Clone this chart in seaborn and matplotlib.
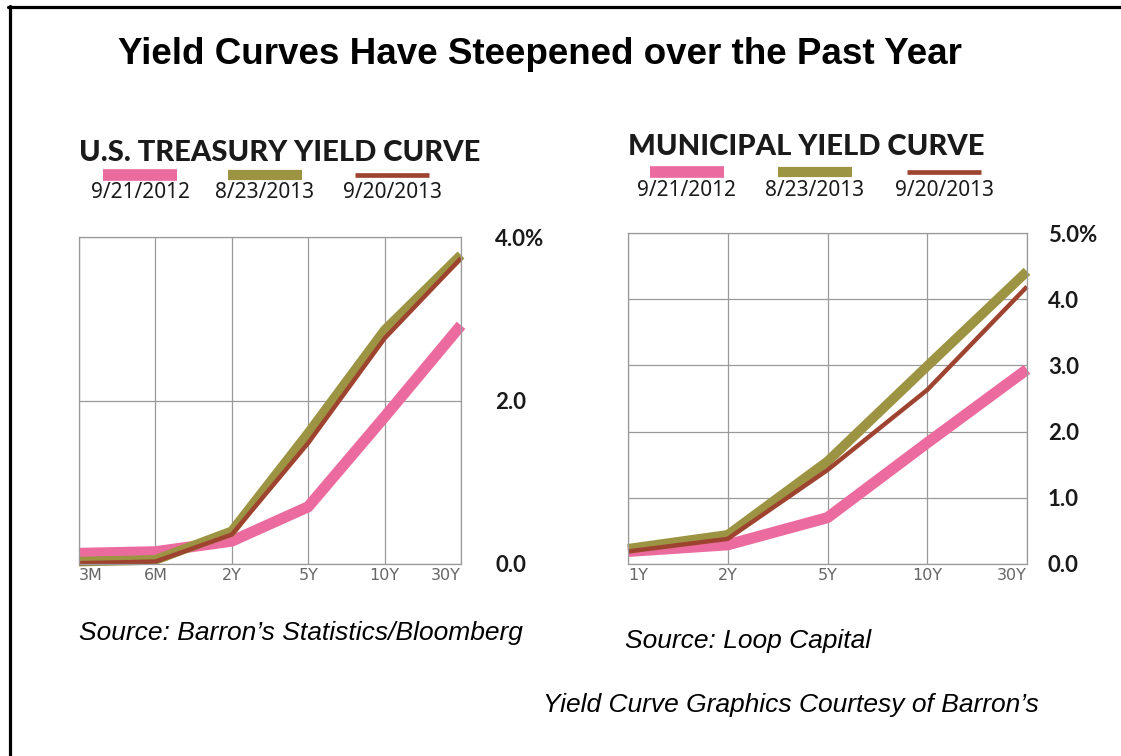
import numpy as np
import pandas as pd
import matplotlib
matplotlib.use("Agg")
import matplotlib.pyplot as plt
from matplotlib.lines import Line2D
import seaborn as sns

# data (percent)
dates = ["9/21/2012", "8/23/2013", "9/20/2013"]
colors = ["#EC6B9F", "#9C9443", "#9E4330"]
widths = [8.0, 7.0, 3.2]

tsy_terms = ["3M", "6M", "2Y", "5Y", "10Y", "30Y"]
tsy_2012 = [0.13, 0.15, 0.28, 0.70, 1.80, 2.92]
tsy_aug13 = [0.03, 0.05, 0.40, 1.60, 2.86, 3.78]
tsy_sep13 = [0.01, 0.03, 0.36, 1.48, 2.76, 3.74]

muni_terms = ["1Y", "2Y", "5Y", "10Y", "30Y"]
muni_2012 = [0.19, 0.29, 0.70, 1.83, 2.94]
muni_aug13 = [0.23, 0.44, 1.55, 2.99, 4.42]
muni_sep13 = [0.19, 0.38, 1.42, 2.63, 4.19]

W, H = 1121, 756
sns.set_style("white")
fig = plt.figure(figsize=(W / 100, H / 100), dpi=100)
fig.patch.set_facecolor("white")


def fx(x):
    return x / W


def fy(y):
    return 1 - y / H


def draw_panel(rect, terms, series, ymax, yticks, ylabels, title, title_xy,
               leg_centers, leg_y, lab_y, ypad):
    ax = fig.add_axes([fx(rect[0]), fy(rect[3]), fx(rect[2] - rect[0]),
                       (rect[3] - rect[1]) / H])
    pos = np.arange(len(terms))
    for vals, c, lw in zip(series, colors, widths):
        sns.lineplot(x=pos, y=vals, ax=ax, color=c, linewidth=lw,
                     solid_capstyle="butt", clip_on=False)
    ax.set_xlim(0, len(terms) - 1)
    ax.set_ylim(0, ymax)
    ax.set_xticks(pos)
    ax.set_xticklabels(terms, family="DejaVu Sans", fontsize=11.5,
                       color="#666666")
    labs = ax.get_xticklabels()
    labs[0].set_horizontalalignment("left")
    labs[-1].set_horizontalalignment("right")
    ax.yaxis.tick_right()
    ax.set_yticks(yticks)
    ax.set_yticklabels(ylabels, family="Lato", fontweight="bold", fontsize=16,
                       color="#1a1a1a")
    ax.tick_params(axis="both", length=0)
    ax.tick_params(axis="y", pad=ypad * 0.72)
    ax.tick_params(axis="x", pad=3)
    ax.grid(True, color="#9a9a9a", linewidth=0.9)
    for s in ax.spines.values():
        s.set_color("#9a9a9a")
        s.set_linewidth(0.9)
    ax.set_xlabel("")
    ax.set_ylabel("")
    fig.text(fx(title_xy[0]), fy(title_xy[1]), title, family="Lato",
             fontweight="black", fontsize=21, color="#1a1a1a",
             ha="center", va="center")
    for cx, c, lw, d in zip(leg_centers, colors, widths, dates):
        fig.add_artist(Line2D([fx(cx - 37), fx(cx + 37)], [fy(leg_y), fy(leg_y)],
                              color=c, linewidth=lw * 1.05, solid_capstyle="butt"))
        fig.text(fx(cx), fy(lab_y), d, family="Noto Sans", fontsize=15,
                 color="#1a1a1a", ha="center", va="center")
    return ax


draw_panel((79, 237, 461, 564), tsy_terms, [tsy_2012, tsy_aug13, tsy_sep13],
           4, [0, 2, 4], ["0.0", "2.0", "4.0%"],
           "U.S. TREASURY YIELD CURVE", (280, 153),
           [140, 265, 392], 175, 193, 34)

draw_panel((628, 233, 1027, 564), muni_terms, [muni_2012, muni_aug13, muni_sep13],
           5, [0, 1, 2, 3, 4, 5], ["0.0", "1.0", "2.0", "3.0", "4.0", "5.0%"],
           "MUNICIPAL YIELD CURVE", (806, 147),
           [687, 815, 944], 172, 190, 21)

fig.text(fx(540), fy(55), "Yield Curves Have Steepened over the Past Year",
         family="Liberation Sans", fontweight="bold", fontsize=26.5,
         ha="center", va="center", color="black")
fig.text(fx(79), fy(633), "Source: Barron\u2019s Statistics/Bloomberg",
         family="Liberation Sans", style="italic", fontsize=19,
         ha="left", va="center", color="black")
fig.text(fx(625), fy(641), "Source: Loop Capital",
         family="Liberation Sans", style="italic", fontsize=19,
         ha="left", va="center", color="black")
fig.text(fx(543), fy(705), "Yield Curve Graphics Courtesy of Barron\u2019s",
         family="Liberation Sans", style="italic", fontsize=19,
         ha="left", va="center", color="black")

# frame (top and left edges visible)
fig.add_artist(Line2D([fx(8), 1.0], [fy(6.5), fy(6.5)], color="black", linewidth=2.3))
fig.add_artist(Line2D([fx(9.5), fx(9.5)], [fy(5.5), 0.0], color="black", linewidth=2.3))

fig.savefig("out.png", dpi=100, facecolor="white")
